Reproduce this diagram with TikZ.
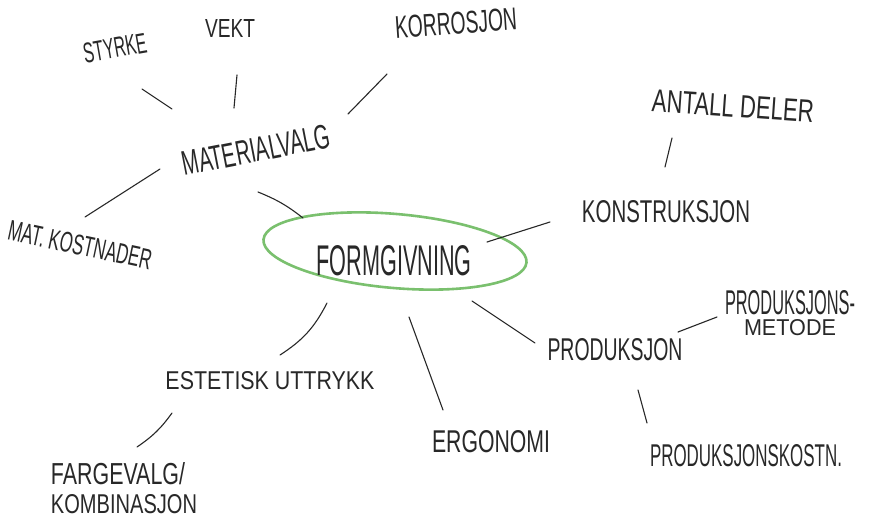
\documentclass[tikz,border=0pt]{standalone}
\usepackage{fontspec}
\newfontfamily\handfont{Liberation Sans}
\usetikzlibrary{shapes.geometric}
\definecolor{ringgreen}{RGB}{122,192,110}
\definecolor{ink}{RGB}{40,40,40}
\newcommand{\hwtxt}[3]{\resizebox{#1pt}{#2pt}{\handfont #3}}
\begin{document}
\begin{tikzpicture}[x=1pt,y=-1pt,
  lbl/.style={inner sep=0pt, text=ink},
  link/.style={draw=ink, line width=1.1pt, line cap=round},
  ringstyle/.style={draw=ringgreen, line width=2.6pt, ellipse, inner sep=0pt}]
\useasboundingbox (0,0) rectangle (872,530);
\fill[white] (0,0) rectangle (872,530);

% nodes
\node[lbl, rotate=10]  (styrke)       at (115,48)  {\hwtxt{64}{20}{STYRKE}};
\node[lbl]             (vekt)         at (230,28)  {\hwtxt{50}{18}{VEKT}};
\node[lbl, rotate=4]   (korrosjon)    at (456,23)  {\hwtxt{122}{22}{KORROSJON}};
\node[lbl, rotate=11]  (materialvalg) at (256,150) {\hwtxt{150}{24}{MATERIALVALG}};
\node[lbl, rotate=-12] (matkost)      at (80,245)  {\hwtxt{146}{20}{MAT. KOSTNADER}};
\node[ringstyle, minimum width=264pt, minimum height=74pt, rotate=-5] (ring) at (395,251) {};
\node[lbl]             (formgivning)  at (394,261) {\hwtxt{155}{30}{FORMGIVNING}};
\node[lbl, rotate=-4]  (antall)       at (733,106) {\hwtxt{162}{22}{ANTALL DELER}};
\node[lbl]             (konstruksjon) at (666,212) {\hwtxt{168}{22}{KONSTRUKSJON}};
\node[lbl, align=center] (prodmetode) at (790,313)
  {\hwtxt{130}{24}{PRODUKSJONS-}\\[4pt]\hwtxt{92}{16}{METODE}};
\node[lbl]             (produksjon)   at (615,350) {\hwtxt{135}{22}{PRODUKSJON}};
\node[lbl]             (prodkost)     at (746,456) {\hwtxt{192}{22}{PRODUKSJONSKOSTN.}};
\node[lbl]             (estetisk)     at (270,381) {\hwtxt{209}{18}{ESTETISK UTTRYKK}};
\node[lbl, align=left] (fargevalg)    at (124,488)
  {\hwtxt{134}{22}{FARGEVALG/}\\[8pt]\hwtxt{146}{19}{KOMBINASJON}};
\node[lbl]             (ergonomi)     at (491,442) {\hwtxt{118}{22}{ERGONOMI}};

% connectors
\draw[link] ([shift={(27,41)}]styrke.center) -- ([shift={(-84,-41)}]materialvalg.center);
\draw[link] ([shift={(7,47)}]vekt.center) -- ([shift={(-22,-42)}]materialvalg.center);
\draw[link] ([shift={(-69,51)}]korrosjon.center) -- ([shift={(92,-36)}]materialvalg.center);
\draw[link] ([shift={(-96,19)}]materialvalg.center) -- ([shift={(5,-28)}]matkost.center);
\draw[link] ([shift={(2,42)}]materialvalg.center) to[bend left=8] ([shift={(-92,-33)}]ring.center);
\draw[link] ([shift={(92,-9)}]ring.center) -- ([shift={(-116,10)}]konstruksjon.center);
\draw[link] ([shift={(-61,32)}]antall.center) -- ([shift={(-1,-45)}]konstruksjon.center);
\draw[link] ([shift={(-68,52)}]ring.center) to[bend left=15] ([shift={(10,-26)}]estetisk.center);
\draw[link] ([shift={(14,66)}]ring.center) -- ([shift={(-48,-32)}]ergonomi.center);
\draw[link] ([shift={(77,50)}]ring.center) -- ([shift={(-80,-7)}]produksjon.center);
\draw[link] ([shift={(63,-18)}]produksjon.center) -- ([shift={(-73,4)}]prodmetode.center);
\draw[link] ([shift={(23,40)}]produksjon.center) -- ([shift={(-99,-33)}]prodkost.center);
\draw[link] ([shift={(-98,32)}]estetisk.center) to[bend left=10] ([shift={(13,-41)}]fargevalg.center);
\end{tikzpicture}
\end{document}
